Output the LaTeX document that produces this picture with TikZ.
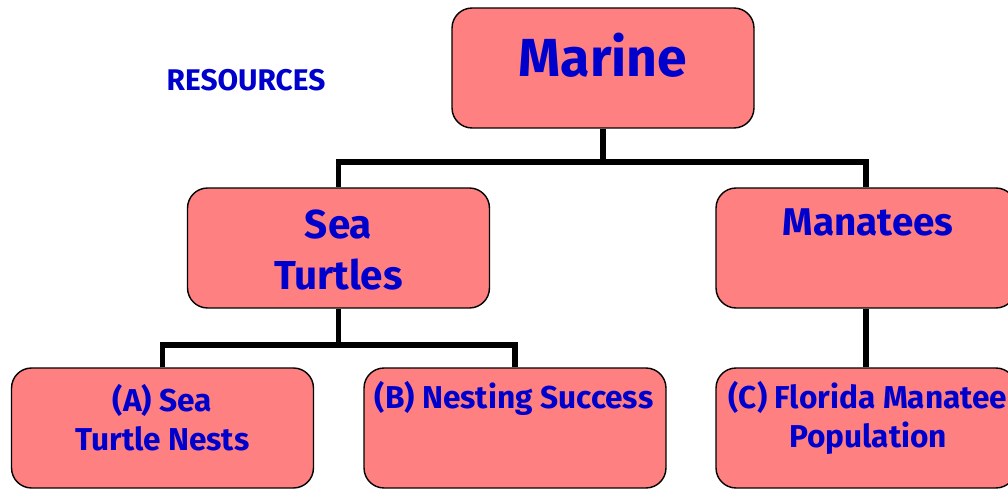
\documentclass[tikz,border=0pt]{standalone}
\usepackage{fontspec}
\setmainfont{Fira Sans}
\usetikzlibrary{positioning}
\definecolor{BoxSalmon}{RGB}{255,128,128}
\definecolor{TextBlue}{RGB}{0,0,204}

\begin{document}
\begin{tikzpicture}[x=0.02cm,y=-0.02cm,
    box/.style={draw=black,line width=0.8pt,fill=BoxSalmon,rounded corners=0.4cm,
      minimum width=6.04cm,minimum height=2.4cm,inner sep=0pt},
    lbl/.style={text=TextBlue,align=center,inner sep=0pt},
    link/.style={line width=3.2pt}]
  \useasboundingbox (0,0) rectangle (1008,489);
  \clip (0,0) rectangle (1008,489);
  % boxes
  \node[box] (marine) at (603,68) {};
  \node[box] (turtles) at (338.5,248) {};
  \node[box,minimum width=6cm] (manatees) at (866,248) {};
  \node[box] (nests) at (162.5,428) {};
  \node[box] (success) at (515,428) {};
  \node[box,minimum width=6cm] (population) at (866,428) {};
  % connectors
  \coordinate (topbus) at (603,162);
  \coordinate (turtlebus) at (338.5,345);
  \draw[link] (marine.south) -- (topbus);
  \draw[link] (turtles.north) |- (topbus) -| (manatees.north);
  \draw[link] (turtles.south) -- (turtlebus);
  \draw[link] (nests.north) |- (turtlebus) -| (success.north);
  \draw[link] (manatees.south) -- (population.north);
  % texts
  \node[lbl,font=\bfseries\fontsize{17}{19}\selectfont] (resources) at (246,80) {RESOURCES};
  \node[lbl,font=\bfseries\fontsize{30.5}{36}\selectfont] (marinetxt) at (603,55) {Marine};
  \node[lbl,font=\bfseries\fontsize{23}{28.5}\selectfont] (turtlestxt) at (338.5,250) {Sea\\Turtles};
  \node[lbl,font=\bfseries\fontsize{22}{26}\selectfont] (manateestxt) at (868,222) {Manatees};
  \node[lbl,font=\bfseries\fontsize{18}{22}\selectfont] (neststxt) at (162.5,418) {(A) Sea\\Turtle Nests};
  \node[lbl,font=\bfseries\fontsize{18}{22}\selectfont] (successtxt) at (514,398) {(B) Nesting Success};
  \node[lbl,font=\bfseries\fontsize{18}{22}\selectfont] (populationtxt) at (868,418) {(C) Florida Manatee\\Population};
\end{tikzpicture}
\end{document}
